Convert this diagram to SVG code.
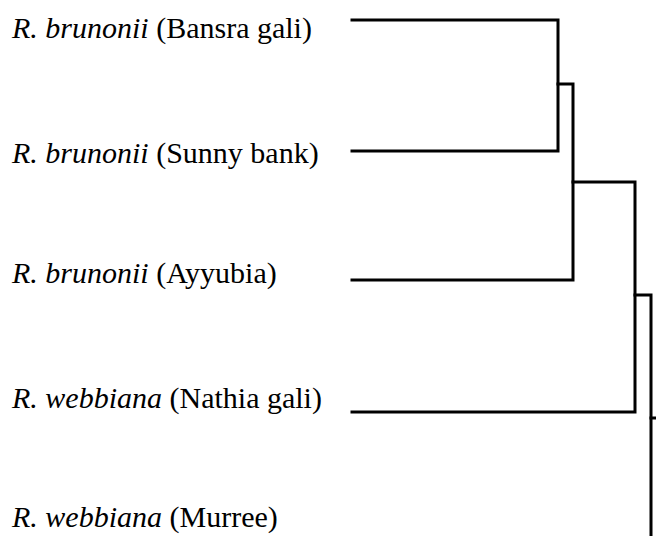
<svg xmlns="http://www.w3.org/2000/svg" width="656" height="536" viewBox="0 0 656 536">
<style>
.lbl{font-family:"Liberation Serif","Times New Roman",serif;font-size:30px;fill:#000}
.sp{font-style:italic}
.br{fill:none;stroke:#000;stroke-width:3;stroke-linecap:square;stroke-linejoin:miter}
</style>
<rect width="656" height="536" fill="#fff"/>
<g id="leaf-bansra"><text class="lbl" x="12" y="38"><tspan class="sp">R. brunonii</tspan> (Bansra gali)</text></g>
<g id="leaf-sunny"><text class="lbl" x="12" y="163"><tspan class="sp">R. brunonii</tspan> (Sunny bank)</text></g>
<g id="leaf-ayyubia"><text class="lbl" x="12" y="283"><tspan class="sp">R. brunonii</tspan> (Ayyubia)</text></g>
<g id="leaf-nathia"><text class="lbl" x="12" y="408"><tspan class="sp">R. webbiana</tspan> (Nathia gali)</text></g>
<g id="leaf-murree"><text class="lbl" x="12" y="527"><tspan class="sp">R. webbiana</tspan> (Murree)</text></g>
<g id="connectors">
<path class="br" d="M352 20H558V151H352"/>
<path class="br" d="M558 84H573V280H352"/>
<path class="br" d="M573 182H635V412H352"/>
<path class="br" d="M635 295H651V545"/>
<path class="br" d="M651 418H660"/>
</g>
</svg>
